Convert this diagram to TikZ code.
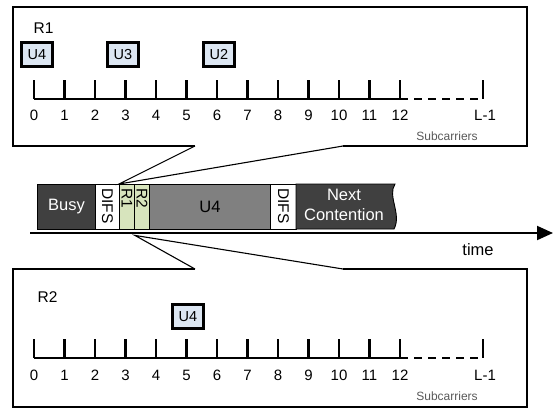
\documentclass[tikz,border=0pt]{standalone}
\usepackage{fontspec}
\setmainfont{Liberation Sans}
\usetikzlibrary{arrows.meta}
\definecolor{darkbar}{HTML}{404040}
\definecolor{midbar}{HTML}{808080}
\definecolor{greenbar}{HTML}{D7E4BD}
\definecolor{ufill}{HTML}{DCE6F2}
\definecolor{subgray}{HTML}{595959}
\tikzset{
  calloutline/.style={draw=black, line width=1.1pt},
  rulerline/.style={draw=black, line width=2.2pt},
  ubox/.style={draw=black, line width=2.2pt, fill=ufill, minimum width=31pt, minimum height=24pt, inner sep=0pt, font=\fontsize{14.5}{14.5}\selectfont},
  ticklabel/.style={font=\fontsize{15}{15}\selectfont, inner sep=0pt},
  rlabel/.style={font=\fontsize{15.5}{15.5}\selectfont, inner sep=0pt},
  sublabel/.style={font=\fontsize{12}{12}\selectfont, text=subgray, inner sep=0pt},
  bar/.style={draw=black, line width=0.9pt, minimum height=45pt, inner sep=0pt, anchor=north west},
  vtext/.style={rotate=-90, anchor=west, font=\fontsize{15.5}{15.5}\selectfont, inner sep=0pt}
}
\begin{document}
\begin{tikzpicture}[x=1pt,y=-1pt]
\useasboundingbox (0,0) rectangle (553,410);

% ---------- middle timeline ----------
\node[bar, fill=darkbar, minimum width=58pt, text=white, font=\fontsize{16.5}{16.5}\selectfont] (busy) at (37,184) {Busy};
\node[bar, fill=white, minimum width=24pt] (difs1) at (95,184) {};
\node[vtext] at ([yshift=-4pt]difs1.north) {DIFS};
\node[bar, fill=greenbar, minimum width=15pt] (r1) at (119,184) {};
\node[vtext] at ([yshift=-4pt]r1.north) {R1};
\node[bar, fill=greenbar, minimum width=15pt] (r2) at (134,184) {};
\node[vtext] at ([yshift=-4pt]r2.north) {R2};
\node[bar, fill=midbar, minimum width=121pt, font=\fontsize{16.5}{16.5}\selectfont] (u4) at (149,184) {U4};
\node[bar, fill=white, minimum width=26pt] (difs2) at (270,184) {};
\node[vtext] at ([yshift=-4pt]difs2.north) {DIFS};
\draw[line width=0.9pt, fill=darkbar] (296,184) -- (395,184) .. controls (387,196) and (402,214) .. (394,229) -- (296,229) -- cycle;
\node[text=white, align=center, font=\fontsize{16.5}{20}\selectfont, inner sep=0pt] (next) at (344,205) {Next\\Contention};

\coordinate (axisstart) at (30,233);
\coordinate (axisend) at (553,233);
\draw[line width=2pt, -{Triangle[length=16pt,width=14pt]}] (axisstart) -- (axisend);
\node[font=\fontsize{16.5}{16.5}\selectfont, inner sep=0pt] (time) at (478,250) {time};

% ---------- callout tips ----------
\coordinate (toptip) at (r1.north west);
\coordinate (bottip) at ([yshift=-5.5pt]r1.south east);

% ---------- top callout box ----------
\coordinate (ta) at (195,146);
\coordinate (tb) at (343,146);
\draw[calloutline] (ta) -- (13,146) -- (13,7) -- (527,7) -- (527,146) -- (tb);
\draw[calloutline] (ta) -- (toptip) -- (tb);

\node[rlabel] (lr1) at (43.5,28) {R1};
\node[ubox] (tu4) at (37,54.5) {U4};
\node[ubox] (tu3) at (123,54.5) {U3};
\node[ubox] (tu2) at (219,54.5) {U2};

\draw[rulerline] (34,99) -- (400,99);
\draw[rulerline, dash pattern=on 8pt off 6pt] (400,99) -- (483,99);
\foreach \i in {0,...,12} {
  \draw[rulerline] ({34+30.5*\i},80) -- ({34+30.5*\i},99);
  \node[ticklabel] (tl\i) at ({34+30.5*\i},115) {\i};
}
\draw[rulerline] (483,80) -- (483,99);
\node[ticklabel] (tlL) at (485,115) {L-1};
\node[sublabel] (tsub) at (447,136) {Subcarriers};

% ---------- bottom callout box ----------
\coordinate (ba) at (195,269);
\coordinate (bb) at (343,269);
\draw[calloutline] (ba) -- (13,269) -- (13,407) -- (527,407) -- (527,269) -- (bb);
\draw[calloutline] (ba) -- (bottip) -- (bb);

\node[rlabel] (lr2) at (47.5,297) {R2};
\node[ubox] (bu4) at (188,316.5) {U4};

\draw[rulerline] (34,358) -- (400,358);
\draw[rulerline, dash pattern=on 8pt off 6pt] (400,358) -- (483,358);
\foreach \i in {0,...,12} {
  \draw[rulerline] ({34+30.5*\i},339) -- ({34+30.5*\i},358);
  \node[ticklabel] (bl\i) at ({34+30.5*\i},375) {\i};
}
\draw[rulerline] (483,339) -- (483,358);
\node[ticklabel] (blL) at (485,375) {L-1};
\node[sublabel] (bsub) at (447,396) {Subcarriers};
\end{tikzpicture}
\end{document}
